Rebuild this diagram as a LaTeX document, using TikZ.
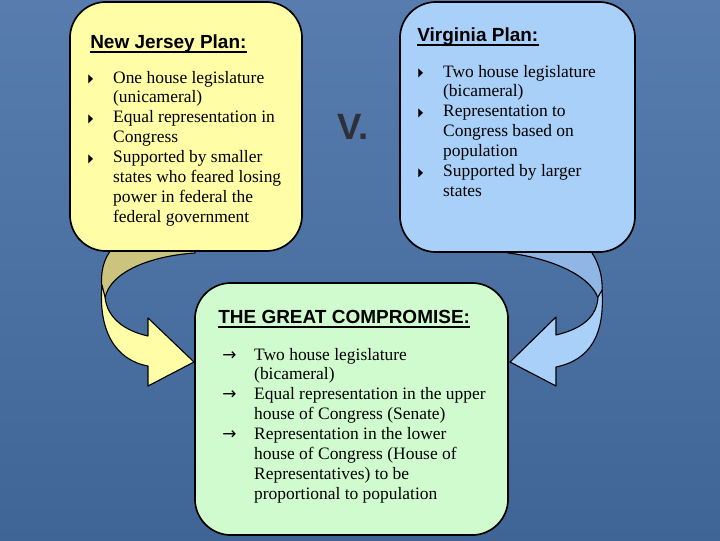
\documentclass[tikz,border=0pt]{standalone}
\usepackage{fontspec}
\usepackage{graphicx}
\setmainfont{Liberation Serif}
\setsansfont{Liberation Sans}
\newfontfamily\symfont{DejaVu Sans}
\usetikzlibrary{positioning}

\definecolor{slidetop}{HTML}{587CAE}
\definecolor{slidebot}{HTML}{3F6597}
\definecolor{njyellow}{HTML}{FFFDA6}
\definecolor{njback}{HTML}{CCC47E}
\definecolor{vablue}{HTML}{A9D0F8}
\definecolor{vaback}{HTML}{8FB6E4}
\definecolor{gcgreen}{HTML}{D0FBCF}
\definecolor{vgray}{HTML}{2E3038}

\newcommand\bul{\makebox[17.7pt][l]{\raisebox{0.3pt}{\symfont\fontsize{9}{9}\selectfont\scalebox{0.5}[0.95]{▶}}}}
\newcommand\arr{\makebox[22.7pt][l]{\symfont\fontsize{12}{12}\selectfont →}}

\begin{document}
\begin{tikzpicture}[x=0.025cm, y=-0.025cm]
    \tikzset{
        plan box/.style={draw=black, line width=1.2pt, rounded corners=0.9cm},
        plan title/.style={inner sep=0pt, anchor=base west, font=\sffamily\bfseries\fontsize{13.5}{16}\selectfont},
        plan list/.style={inner sep=0pt, anchor=base west, font=\fontsize{12.4}{14.17}\selectfont},
        title rule/.style={line width=1.4pt},
        bent arrow/.style={draw=black, line width=0.8pt, line join=round}
    }
    \useasboundingbox (0,0) rectangle (720,540);
    \shade[top color=slidetop, bottom color=slidebot] (0,0) rectangle (720,540);

    % curved arrows (drawn under the boxes)
    \filldraw[bent arrow, fill=njback] (112,249) -- (195,249) -- (195,253)
        .. controls (150,256) and (110,272) .. (105,298) -- (102,288)
        .. controls (100,272) and (104,258) .. (112,249) -- cycle;
    \filldraw[bent arrow, fill=njyellow] (102,285)
        .. controls (98,330) and (115,360) .. (148,366) -- (148,386) -- (194,362) -- (148,318) -- (148,336)
        .. controls (125,331) and (107,318) .. (105,297) -- cycle;
    \filldraw[bent arrow, fill=vaback] (508,249) -- (592,249) -- (592,253)
        .. controls (600,265) and (603,280) .. (602,292) -- (598,298)
        .. controls (590,275) and (550,258) .. (508,253) -- cycle;
    \filldraw[bent arrow, fill=vablue] (602,290)
        .. controls (605,335) and (590,360) .. (556,367) -- (556,386) -- (510,362) -- (556,317) -- (556,335)
        .. controls (585,328) and (597,315) .. (598,297) -- cycle;

    % the three plans
    \node (nj) [plan box, fill=njyellow, minimum width=5.8cm, minimum height=6.225cm] at (186,126.5) {};
    \node (va) [plan box, fill=vablue, minimum width=5.875cm, minimum height=6.25cm] at (517.5,127) {};
    \node (gc) [plan box, fill=gcgreen, minimum width=7.825cm, minimum height=6.3cm] at (351.5,409) {};

    \node (versus) [font=\sffamily\bfseries\fontsize{26}{30}\selectfont, text=vgray] at (353,127) {V.};

    % New Jersey
    \node (njtitle) [plan title] at (90,48) {New Jersey Plan:};
    \draw[title rule] ([yshift=-2.6pt]njtitle.base west) -- ([yshift=-2.6pt]njtitle.base east);
    \node (njlist) [plan list] at (88,83) {\begin{tabular}[t]{@{}l@{}l@{}}
        \bul & One house legislature\\
             & (unicameral)\\
        \bul & Equal representation in\\
             & Congress\\
        \bul & Supported by smaller\\
             & states who feared losing\\
             & power in federal the\\
             & federal government
    \end{tabular}};

    % Virginia
    \node (vatitle) [plan title] at (417,41) {Virginia Plan:};
    \draw[title rule] ([yshift=-2.6pt]vatitle.base west) -- ([yshift=-2.6pt]vatitle.base east);
    \node (valist) [plan list] at (418,77) {\begin{tabular}[t]{@{}l@{}l@{}}
        \bul & Two house legislature\\
             & (bicameral)\\
        \bul & Representation to\\
             & Congress based on\\
             & population\\
        \bul & Supported by larger\\
             & states
    \end{tabular}};

    % compromise
    \node (gctitle) [plan title] at (218,323) {THE GREAT COMPROMISE:};
    \draw[title rule] ([yshift=-2.6pt]gctitle.base west) -- ([yshift=-2.6pt]gctitle.base east);
    \node (gclist) [plan list] at (222,360) {\begin{tabular}[t]{@{}l@{}l@{}}
        \arr & Two house legislature\\
             & (bicameral)\\
        \arr & Equal representation in the upper\\
             & house of Congress (Senate)\\
        \arr & Representation in the lower\\
             & house of Congress (House of\\
             & Representatives) to be\\
             & proportional to population
    \end{tabular}};
\end{tikzpicture}
\end{document}
